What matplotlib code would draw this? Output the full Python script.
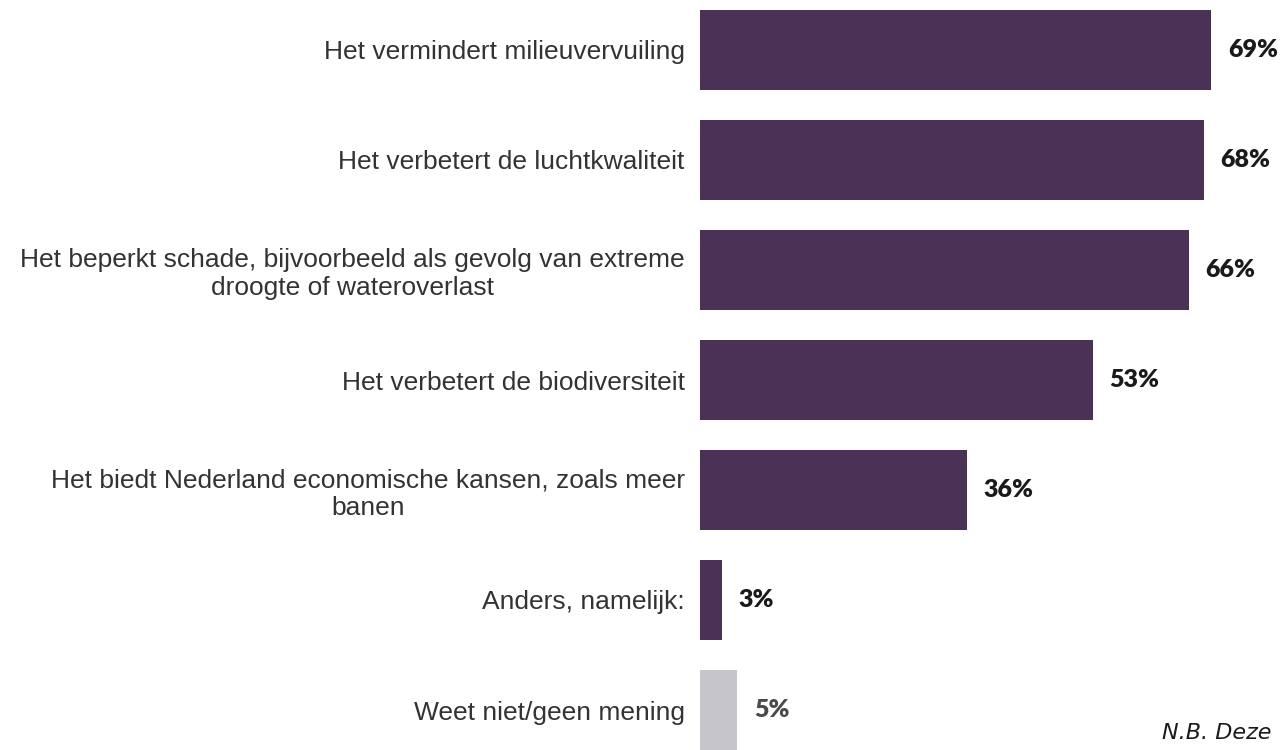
import matplotlib.pyplot as plt

categories = [
    'Het vermindert milieuvervuiling',
    'Het verbetert de luchtkwaliteit',
    'Het beperkt schade, bijvoorbeeld als gevolg van extreme\ndroogte of wateroverlast',
    'Het verbetert de biodiversiteit',
    'Het biedt Nederland economische kansen, zoals meer\nbanen',
    'Anders, namelijk:',
    'Weet niet/geen mening',
]
values = [69, 68, 66, 53, 36, 3, 5]
bar_colors = ['#4a3155'] * 6 + ['#c6c5ca']
label_colors = ['#1a1a1a'] * 6 + ['#4a4a4a']

fig = plt.figure(figsize=(12.84, 7.5), dpi=100)
ax = fig.add_axes([700 / 1284, 0, 578 / 1284, 1])

positions = list(range(len(values)))
ax.barh(positions, values, height=0.727, color=bar_colors)
ax.set_xlim(0, 78)
ax.set_ylim(6 + 40 / 110, -50 / 110)

ax.set_yticks(positions)
ax.set_yticklabels(categories, fontsize=19, family='Liberation Sans',
                   color='#333333', multialignment='center')
ax.tick_params(axis='y', length=0, pad=11)
ax.set_xticks([])
for s in ax.spines.values():
    s.set_visible(False)

for y, v, c in zip(positions, values, label_colors):
    ax.annotate(f'{v}%', (v, y), xytext=(12, 0), textcoords='offset points',
                va='center', ha='left', fontsize=18, fontweight='heavy',
                family='Lato', color=c)

fig.text(1162 / 1284, 1 - 739 / 750, 'N.B. Deze', fontsize=16, style='italic',
         family='DejaVu Sans', color='#1a1a1a', va='baseline', ha='left')

fig.savefig('out.png', dpi=100)
